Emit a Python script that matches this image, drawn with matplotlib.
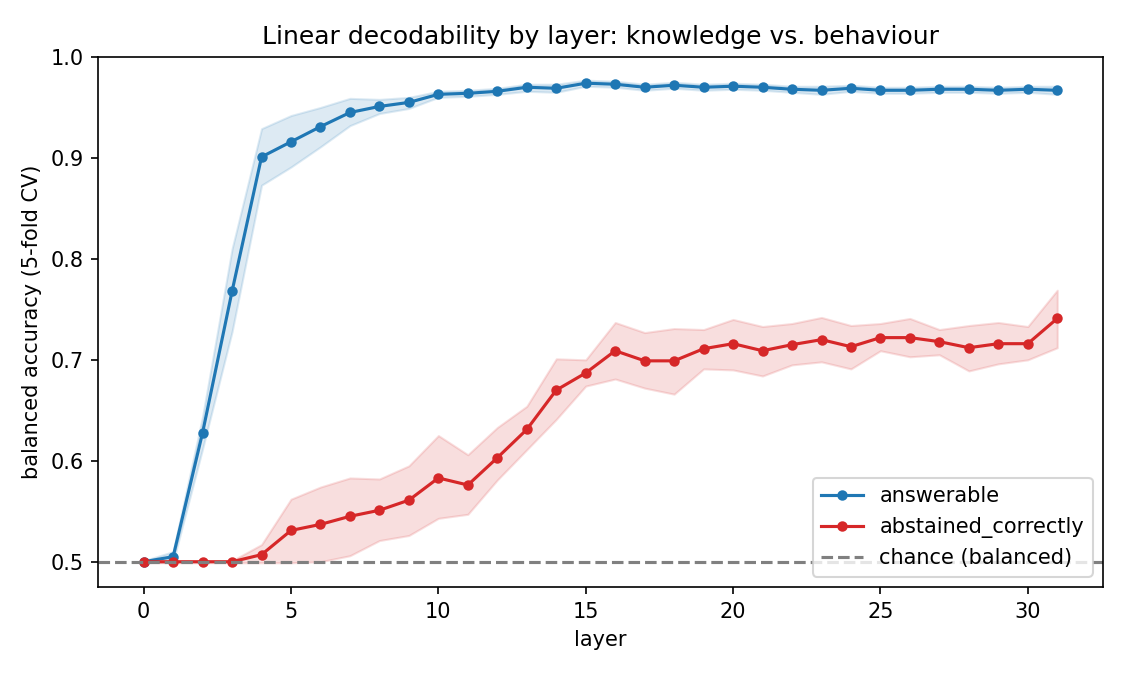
import matplotlib
matplotlib.use("Agg")
import matplotlib.pyplot as plt

layers = list(range(32))

# answerable probe: mean accuracy and band (min/max across folds)
ans_mean = [0.500, 0.505, 0.628, 0.768, 0.901, 0.916, 0.931, 0.945, 0.951, 0.955,
            0.963, 0.964, 0.966, 0.970, 0.969, 0.974, 0.973, 0.970, 0.972, 0.970,
            0.971, 0.970, 0.968, 0.967, 0.969, 0.967, 0.967, 0.968, 0.968, 0.967,
            0.968, 0.967]
ans_lo = [0.499, 0.500, 0.612, 0.728, 0.873, 0.891, 0.911, 0.932, 0.944, 0.949,
          0.960, 0.961, 0.963, 0.966, 0.965, 0.971, 0.970, 0.967, 0.969, 0.967,
          0.968, 0.967, 0.965, 0.963, 0.966, 0.964, 0.964, 0.965, 0.965, 0.964,
          0.965, 0.963]
ans_hi = [0.501, 0.510, 0.644, 0.810, 0.929, 0.942, 0.950, 0.959, 0.958, 0.960,
          0.966, 0.967, 0.969, 0.973, 0.973, 0.977, 0.976, 0.973, 0.975, 0.973,
          0.974, 0.973, 0.971, 0.971, 0.972, 0.970, 0.970, 0.971, 0.971, 0.970,
          0.971, 0.971]

# abstained_correctly probe
abs_mean = [0.500, 0.500, 0.500, 0.500, 0.507, 0.531, 0.537, 0.545, 0.551, 0.561,
            0.583, 0.576, 0.603, 0.631, 0.670, 0.687, 0.709, 0.699, 0.699, 0.711,
            0.716, 0.709, 0.715, 0.720, 0.713, 0.722, 0.722, 0.718, 0.712, 0.716,
            0.716, 0.741]
abs_lo = [0.499, 0.499, 0.499, 0.499, 0.499, 0.499, 0.500, 0.506, 0.521, 0.526,
          0.543, 0.547, 0.581, 0.611, 0.641, 0.674, 0.681, 0.672, 0.666, 0.691,
          0.690, 0.684, 0.695, 0.698, 0.691, 0.709, 0.703, 0.705, 0.689, 0.696,
          0.700, 0.712]
abs_hi = [0.501, 0.501, 0.501, 0.501, 0.517, 0.562, 0.574, 0.583, 0.582, 0.595,
          0.625, 0.606, 0.633, 0.654, 0.701, 0.700, 0.737, 0.727, 0.731, 0.730,
          0.740, 0.733, 0.736, 0.742, 0.734, 0.736, 0.741, 0.730, 0.734, 0.737,
          0.733, 0.769]

fig, ax = plt.subplots(figsize=(7.5, 4.5), dpi=150)

ax.plot(layers, ans_mean, marker='o', markersize=4, color='#1f77b4', label='answerable')
ax.fill_between(layers, ans_lo, ans_hi, color='#1f77b4', alpha=0.15)
ax.plot(layers, abs_mean, marker='o', markersize=4, color='#d62728', label='abstained_correctly')
ax.fill_between(layers, abs_lo, abs_hi, color='#d62728', alpha=0.15)
ax.axhline(0.5, color='gray', linestyle='--', label='chance (balanced)')

ax.set_ylim(0.475, 1.0)
ax.set_xlabel('layer')
ax.set_ylabel('balanced accuracy (5-fold CV)')
ax.set_title('Linear decodability by layer: knowledge vs. behaviour')
ax.legend(loc='lower right')

fig.subplots_adjust(left=0.0871, right=0.9804, top=0.9156, bottom=0.1304)
fig.savefig('out.png')
